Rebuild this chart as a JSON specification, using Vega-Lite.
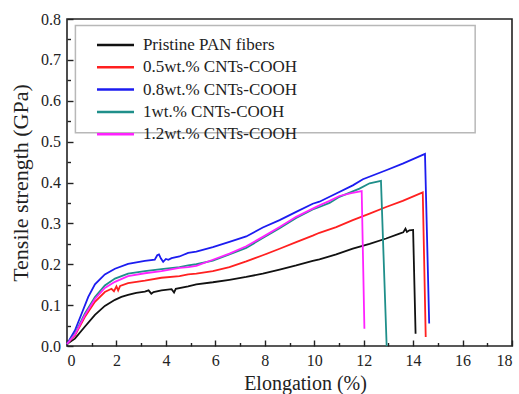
{
  "$schema": "https://vega.github.io/schema/vega-lite/v6.json",
  "width": 445,
  "height": 327,
  "autosize": "none",
  "padding": {"left": 67, "top": 19, "right": 7, "bottom": 48},
  "config": {
    "view": {"stroke": "#222", "strokeWidth": 1.6},
    "font": "Liberation Serif, Times New Roman, serif",
    "axis": {
      "grid": false,
      "domain": false,
      "tickColor": "#222",
      "tickWidth": 1.4,
      "labelColor": "#222",
      "labelFont": "Liberation Serif, Times New Roman, serif",
      "labelFontSize": 16,
      "titleFont": "Liberation Serif, Times New Roman, serif",
      "titleFontWeight": "normal",
      "titleColor": "#222",
      "titleFontSize": 20
    }
  },
  "datasets": {
    "curves": [
      {"series": "Pristine PAN fibers", "x": 0, "y": 0.005},
      {"series": "Pristine PAN fibers", "x": 0.32, "y": 0.018},
      {"series": "Pristine PAN fibers", "x": 0.72, "y": 0.047},
      {"series": "Pristine PAN fibers", "x": 1.13, "y": 0.076},
      {"series": "Pristine PAN fibers", "x": 1.53, "y": 0.098},
      {"series": "Pristine PAN fibers", "x": 1.94, "y": 0.113},
      {"series": "Pristine PAN fibers", "x": 2.2, "y": 0.12},
      {"series": "Pristine PAN fibers", "x": 2.47, "y": 0.125},
      {"series": "Pristine PAN fibers", "x": 2.8, "y": 0.13},
      {"series": "Pristine PAN fibers", "x": 3.15, "y": 0.133},
      {"series": "Pristine PAN fibers", "x": 3.3, "y": 0.136},
      {"series": "Pristine PAN fibers", "x": 3.41, "y": 0.128},
      {"series": "Pristine PAN fibers", "x": 3.5, "y": 0.132},
      {"series": "Pristine PAN fibers", "x": 3.82, "y": 0.136},
      {"series": "Pristine PAN fibers", "x": 4.23, "y": 0.139},
      {"series": "Pristine PAN fibers", "x": 4.33, "y": 0.131},
      {"series": "Pristine PAN fibers", "x": 4.4, "y": 0.14},
      {"series": "Pristine PAN fibers", "x": 4.9, "y": 0.146},
      {"series": "Pristine PAN fibers", "x": 5.23, "y": 0.151},
      {"series": "Pristine PAN fibers", "x": 5.9, "y": 0.156},
      {"series": "Pristine PAN fibers", "x": 6.57, "y": 0.162},
      {"series": "Pristine PAN fibers", "x": 7.25, "y": 0.169},
      {"series": "Pristine PAN fibers", "x": 7.92, "y": 0.177},
      {"series": "Pristine PAN fibers", "x": 8.6, "y": 0.187},
      {"series": "Pristine PAN fibers", "x": 9.27, "y": 0.197},
      {"series": "Pristine PAN fibers", "x": 9.94, "y": 0.208},
      {"series": "Pristine PAN fibers", "x": 10.21, "y": 0.212},
      {"series": "Pristine PAN fibers", "x": 10.62, "y": 0.219},
      {"series": "Pristine PAN fibers", "x": 10.89, "y": 0.224},
      {"series": "Pristine PAN fibers", "x": 11.56, "y": 0.238},
      {"series": "Pristine PAN fibers", "x": 12.24, "y": 0.25},
      {"series": "Pristine PAN fibers", "x": 12.91, "y": 0.263},
      {"series": "Pristine PAN fibers", "x": 13.45, "y": 0.275},
      {"series": "Pristine PAN fibers", "x": 13.6, "y": 0.278},
      {"series": "Pristine PAN fibers", "x": 13.69, "y": 0.287},
      {"series": "Pristine PAN fibers", "x": 13.75, "y": 0.279},
      {"series": "Pristine PAN fibers", "x": 13.85, "y": 0.283},
      {"series": "Pristine PAN fibers", "x": 14.0, "y": 0.284},
      {"series": "Pristine PAN fibers", "x": 14.1, "y": 0.03},
      {"series": "0.5wt.% CNTs-COOH", "x": 0, "y": 0.005},
      {"series": "0.5wt.% CNTs-COOH", "x": 0.32, "y": 0.026},
      {"series": "0.5wt.% CNTs-COOH", "x": 0.72, "y": 0.071},
      {"series": "0.5wt.% CNTs-COOH", "x": 1.13, "y": 0.108},
      {"series": "0.5wt.% CNTs-COOH", "x": 1.53, "y": 0.132},
      {"series": "0.5wt.% CNTs-COOH", "x": 1.8, "y": 0.14},
      {"series": "0.5wt.% CNTs-COOH", "x": 1.9, "y": 0.134},
      {"series": "0.5wt.% CNTs-COOH", "x": 2.0, "y": 0.146},
      {"series": "0.5wt.% CNTs-COOH", "x": 2.07, "y": 0.136},
      {"series": "0.5wt.% CNTs-COOH", "x": 2.15, "y": 0.147},
      {"series": "0.5wt.% CNTs-COOH", "x": 2.47, "y": 0.154},
      {"series": "0.5wt.% CNTs-COOH", "x": 3.15, "y": 0.16},
      {"series": "0.5wt.% CNTs-COOH", "x": 3.82, "y": 0.167},
      {"series": "0.5wt.% CNTs-COOH", "x": 4.55, "y": 0.171},
      {"series": "0.5wt.% CNTs-COOH", "x": 4.9, "y": 0.175},
      {"series": "0.5wt.% CNTs-COOH", "x": 5.23, "y": 0.177},
      {"series": "0.5wt.% CNTs-COOH", "x": 5.9, "y": 0.183},
      {"series": "0.5wt.% CNTs-COOH", "x": 6.57, "y": 0.193},
      {"series": "0.5wt.% CNTs-COOH", "x": 7.25, "y": 0.207},
      {"series": "0.5wt.% CNTs-COOH", "x": 7.92, "y": 0.222},
      {"series": "0.5wt.% CNTs-COOH", "x": 8.6, "y": 0.238},
      {"series": "0.5wt.% CNTs-COOH", "x": 9.27, "y": 0.254},
      {"series": "0.5wt.% CNTs-COOH", "x": 9.94, "y": 0.27},
      {"series": "0.5wt.% CNTs-COOH", "x": 10.21, "y": 0.277},
      {"series": "0.5wt.% CNTs-COOH", "x": 10.89, "y": 0.291},
      {"series": "0.5wt.% CNTs-COOH", "x": 11.56, "y": 0.308},
      {"series": "0.5wt.% CNTs-COOH", "x": 12.24, "y": 0.324},
      {"series": "0.5wt.% CNTs-COOH", "x": 12.91, "y": 0.34},
      {"series": "0.5wt.% CNTs-COOH", "x": 13.58, "y": 0.355},
      {"series": "0.5wt.% CNTs-COOH", "x": 14.39, "y": 0.376},
      {"series": "0.5wt.% CNTs-COOH", "x": 14.51, "y": 0.022},
      {"series": "0.8wt.% CNTs-COOH", "x": 0, "y": 0.005},
      {"series": "0.8wt.% CNTs-COOH", "x": 0.32, "y": 0.038},
      {"series": "0.8wt.% CNTs-COOH", "x": 0.59, "y": 0.079},
      {"series": "0.8wt.% CNTs-COOH", "x": 0.86, "y": 0.12},
      {"series": "0.8wt.% CNTs-COOH", "x": 1.13, "y": 0.151},
      {"series": "0.8wt.% CNTs-COOH", "x": 1.53, "y": 0.175},
      {"series": "0.8wt.% CNTs-COOH", "x": 1.94, "y": 0.189},
      {"series": "0.8wt.% CNTs-COOH", "x": 2.47, "y": 0.201},
      {"series": "0.8wt.% CNTs-COOH", "x": 3.15, "y": 0.208},
      {"series": "0.8wt.% CNTs-COOH", "x": 3.55, "y": 0.211},
      {"series": "0.8wt.% CNTs-COOH", "x": 3.65, "y": 0.222},
      {"series": "0.8wt.% CNTs-COOH", "x": 3.72, "y": 0.224},
      {"series": "0.8wt.% CNTs-COOH", "x": 3.8, "y": 0.214},
      {"series": "0.8wt.% CNTs-COOH", "x": 3.89, "y": 0.206},
      {"series": "0.8wt.% CNTs-COOH", "x": 4.0, "y": 0.213},
      {"series": "0.8wt.% CNTs-COOH", "x": 4.1, "y": 0.211},
      {"series": "0.8wt.% CNTs-COOH", "x": 4.23, "y": 0.215},
      {"series": "0.8wt.% CNTs-COOH", "x": 4.55, "y": 0.219},
      {"series": "0.8wt.% CNTs-COOH", "x": 4.9, "y": 0.228},
      {"series": "0.8wt.% CNTs-COOH", "x": 5.23, "y": 0.231},
      {"series": "0.8wt.% CNTs-COOH", "x": 5.9, "y": 0.242},
      {"series": "0.8wt.% CNTs-COOH", "x": 6.57, "y": 0.255},
      {"series": "0.8wt.% CNTs-COOH", "x": 7.25, "y": 0.268},
      {"series": "0.8wt.% CNTs-COOH", "x": 7.92, "y": 0.29},
      {"series": "0.8wt.% CNTs-COOH", "x": 8.6, "y": 0.308},
      {"series": "0.8wt.% CNTs-COOH", "x": 9.27, "y": 0.328},
      {"series": "0.8wt.% CNTs-COOH", "x": 9.94, "y": 0.348},
      {"series": "0.8wt.% CNTs-COOH", "x": 10.21, "y": 0.353},
      {"series": "0.8wt.% CNTs-COOH", "x": 10.89, "y": 0.373},
      {"series": "0.8wt.% CNTs-COOH", "x": 11.56, "y": 0.393},
      {"series": "0.8wt.% CNTs-COOH", "x": 11.97, "y": 0.408},
      {"series": "0.8wt.% CNTs-COOH", "x": 12.91, "y": 0.43},
      {"series": "0.8wt.% CNTs-COOH", "x": 13.58, "y": 0.446},
      {"series": "0.8wt.% CNTs-COOH", "x": 14.48, "y": 0.47},
      {"series": "0.8wt.% CNTs-COOH", "x": 14.65, "y": 0.055},
      {"series": "1wt.% CNTs-COOH", "x": 0, "y": 0.005},
      {"series": "1wt.% CNTs-COOH", "x": 0.32, "y": 0.03},
      {"series": "1wt.% CNTs-COOH", "x": 0.72, "y": 0.079},
      {"series": "1wt.% CNTs-COOH", "x": 1.13, "y": 0.12},
      {"series": "1wt.% CNTs-COOH", "x": 1.53, "y": 0.148},
      {"series": "1wt.% CNTs-COOH", "x": 1.94, "y": 0.165},
      {"series": "1wt.% CNTs-COOH", "x": 2.47, "y": 0.177},
      {"series": "1wt.% CNTs-COOH", "x": 3.15, "y": 0.183},
      {"series": "1wt.% CNTs-COOH", "x": 3.82, "y": 0.188},
      {"series": "1wt.% CNTs-COOH", "x": 4.55, "y": 0.193},
      {"series": "1wt.% CNTs-COOH", "x": 4.9, "y": 0.197},
      {"series": "1wt.% CNTs-COOH", "x": 5.23, "y": 0.2},
      {"series": "1wt.% CNTs-COOH", "x": 5.9, "y": 0.209},
      {"series": "1wt.% CNTs-COOH", "x": 6.57, "y": 0.224},
      {"series": "1wt.% CNTs-COOH", "x": 7.25, "y": 0.24},
      {"series": "1wt.% CNTs-COOH", "x": 7.92, "y": 0.264},
      {"series": "1wt.% CNTs-COOH", "x": 8.6, "y": 0.288},
      {"series": "1wt.% CNTs-COOH", "x": 9.27, "y": 0.313},
      {"series": "1wt.% CNTs-COOH", "x": 9.94, "y": 0.334},
      {"series": "1wt.% CNTs-COOH", "x": 10.21, "y": 0.34},
      {"series": "1wt.% CNTs-COOH", "x": 10.62, "y": 0.35},
      {"series": "1wt.% CNTs-COOH", "x": 11.02, "y": 0.365},
      {"series": "1wt.% CNTs-COOH", "x": 11.83, "y": 0.385},
      {"series": "1wt.% CNTs-COOH", "x": 12.24, "y": 0.398},
      {"series": "1wt.% CNTs-COOH", "x": 12.7, "y": 0.404},
      {"series": "1wt.% CNTs-COOH", "x": 12.93, "y": 0.0},
      {"series": "1.2wt.% CNTs-COOH", "x": 0, "y": 0.005},
      {"series": "1.2wt.% CNTs-COOH", "x": 0.32, "y": 0.028},
      {"series": "1.2wt.% CNTs-COOH", "x": 0.72, "y": 0.075},
      {"series": "1.2wt.% CNTs-COOH", "x": 1.13, "y": 0.115},
      {"series": "1.2wt.% CNTs-COOH", "x": 1.53, "y": 0.142},
      {"series": "1.2wt.% CNTs-COOH", "x": 1.94, "y": 0.157},
      {"series": "1.2wt.% CNTs-COOH", "x": 2.47, "y": 0.171},
      {"series": "1.2wt.% CNTs-COOH", "x": 3.15, "y": 0.178},
      {"series": "1.2wt.% CNTs-COOH", "x": 3.82, "y": 0.183},
      {"series": "1.2wt.% CNTs-COOH", "x": 4.55, "y": 0.191},
      {"series": "1.2wt.% CNTs-COOH", "x": 4.9, "y": 0.193},
      {"series": "1.2wt.% CNTs-COOH", "x": 5.23, "y": 0.196},
      {"series": "1.2wt.% CNTs-COOH", "x": 5.9, "y": 0.211},
      {"series": "1.2wt.% CNTs-COOH", "x": 6.57, "y": 0.226},
      {"series": "1.2wt.% CNTs-COOH", "x": 7.25, "y": 0.244},
      {"series": "1.2wt.% CNTs-COOH", "x": 7.92, "y": 0.267},
      {"series": "1.2wt.% CNTs-COOH", "x": 8.6, "y": 0.291},
      {"series": "1.2wt.% CNTs-COOH", "x": 9.27, "y": 0.316},
      {"series": "1.2wt.% CNTs-COOH", "x": 9.94, "y": 0.336},
      {"series": "1.2wt.% CNTs-COOH", "x": 10.21, "y": 0.344},
      {"series": "1.2wt.% CNTs-COOH", "x": 10.62, "y": 0.355},
      {"series": "1.2wt.% CNTs-COOH", "x": 11.02, "y": 0.367},
      {"series": "1.2wt.% CNTs-COOH", "x": 11.5, "y": 0.374},
      {"series": "1.2wt.% CNTs-COOH", "x": 11.92, "y": 0.379},
      {"series": "1.2wt.% CNTs-COOH", "x": 12.03, "y": 0.042}
    ],
    "legendbox": [
      {"x1": 0.34, "x2": 16.51, "y1": 0.522, "y2": 0.784}
    ]
  },
  "resolve": {"axis": {"x": "independent", "y": "independent"}},
  "layer": [
    {
      "data": {"name": "legendbox"},
      "mark": {"type": "rect", "fill": "white", "stroke": "#b8b8b8", "strokeWidth": 1.5},
      "encoding": {
        "x": {
          "field": "x1", "type": "quantitative",
          "scale": {"domain": [0, 18], "nice": false, "zero": false},
          "axis": {"orient": "bottom", "title": null, "labels": false,
                   "values": [1, 3, 5, 7, 9, 11, 13, 15, 17], "tickSize": -3.5}
        },
        "x2": {"field": "x2"},
        "y": {
          "field": "y1", "type": "quantitative",
          "scale": {"domain": [0, 0.8], "nice": false, "zero": false},
          "axis": {"orient": "left", "title": null, "labels": false,
                   "values": [0.05, 0.15, 0.25, 0.35, 0.45, 0.55, 0.65, 0.75], "tickSize": -3.5}
        },
        "y2": {"field": "y2"}
      }
    },
    {
      "data": {"name": "curves"},
      "mark": {"type": "line", "strokeWidth": 1.8, "interpolate": "linear"},
      "encoding": {
        "x": {
          "field": "x", "type": "quantitative",
          "scale": {"domain": [0, 18], "nice": false, "zero": false},
          "axis": {"orient": "bottom", "title": "Elongation (%)",
                   "values": [0, 2, 4, 6, 8, 10, 12, 14, 16, 18],
                   "tickSize": -6, "labelPadding": 12, "titlePadding": 5, "titleX": 238}
        },
        "y": {
          "field": "y", "type": "quantitative",
          "scale": {"domain": [0, 0.8], "nice": false, "zero": false},
          "axis": {"orient": "left", "title": "Tensile strength (GPa)",
                   "values": [0, 0.1, 0.2, 0.3, 0.4, 0.5, 0.6, 0.7, 0.8],
                   "format": ".1f", "tickSize": -6, "labelPadding": 12.5, "titlePadding": 8, "titleFontSize": 22}
        },
        "color": {
          "field": "series", "type": "nominal",
          "scale": {
            "domain": ["Pristine PAN fibers", "0.5wt.% CNTs-COOH", "0.8wt.% CNTs-COOH", "1wt.% CNTs-COOH", "1.2wt.% CNTs-COOH"],
            "range": ["#111111", "#ff2020", "#1c1cf0", "#1f8f8a", "#ff22ff"]
          },
          "legend": {
            "title": null,
            "orient": "none",
            "legendX": 40,
            "legendY": 17.5,
            "symbolType": "M-4,0H4",
            "symbolSize": 85.6,
            "symbolStrokeWidth": 2.5,
            "labelFont": "Liberation Serif, Times New Roman, serif",
            "labelFontSize": 17,
            "labelColor": "#222",
            "labelOffset": 18.9,
            "rowPadding": 4.3,
            "padding": 0
          }
        }
      }
    }
  ]
}
